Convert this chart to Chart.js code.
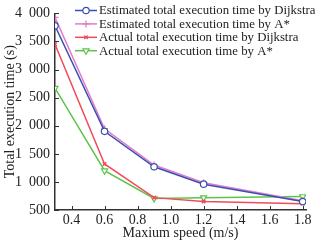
<!DOCTYPE html>
<html>
<head>
<meta charset="utf-8">
<script src="https://cdn.jsdelivr.net/npm/chart.js@4.4.0/dist/chart.umd.min.js"></script>
<style>
  html, body { margin: 0; padding: 0; background: #fff; }
  canvas { display: block; }
</style>
</head>
<body>
<canvas id="chart" width="325" height="245"></canvas>
<script>
// ====== DATA ======
const speeds = [0.3, 0.6, 0.9, 1.2, 1.8];
const estDijkstra = [3780, 1900, 1270, 960, 650];
const estAstar = [3930, 1945, 1300, 985, 665];
const actDijkstra = [3450, 1320, 720, 650, 610];
const actAstar = [2670, 1200, 705, 720, 740];
const yTicks = [500, 1000, 1500, 2000, 2500, 3000, 3500, 4000];
const xTicks = [0.4, 0.6, 0.8, 1.0, 1.2, 1.4, 1.6, 1.8];

const seriesNames = [
  "Estimated total execution time by Dijkstra",
  "Estimated total execution time by A*",
  "Actual total execution time by Dijkstra",
  "Actual total execution time by A*"
];

const FONT = "'Liberation Serif', 'DejaVu Serif', serif";

function toPoints(vals) {
  return speeds.map((s, i) => ({ x: s, y: vals[i] }));
}

// ====== INWARD TICKS + LEGEND ======
const extras = {
  id: "extras",
  afterDraw(chart) {
    const c = chart.ctx;
    const xs = chart.scales.x, ys = chart.scales.y;
    const area = chart.chartArea;
    c.save();
    c.strokeStyle = "#333";
    c.lineWidth = 1;
    xTicks.forEach(v => {
      const px = Math.round(xs.getPixelForValue(v)) + 0.5;
      c.beginPath();
      c.moveTo(px, area.bottom);
      c.lineTo(px, area.bottom - 4);
      c.stroke();
    });
    yTicks.forEach(v => {
      const py = Math.round(ys.getPixelForValue(v)) + 0.5;
      c.beginPath();
      c.moveTo(area.left, py);
      c.lineTo(area.left + 4, py);
      c.stroke();
    });

    // legend
    c.font = "12.8px " + FONT;
    c.textBaseline = "middle";
    chart.data.datasets.forEach((ds, i) => {
      const y = 10.5 + i * 13.4;
      const x0 = 75, x1 = 97;
      c.strokeStyle = ds.borderColor;
      c.lineWidth = 1.5;
      c.beginPath();
      c.moveTo(x0, y);
      c.lineTo(x1, y);
      c.stroke();
      c.fillStyle = "#222";
      c.fillText(ds.label, 99, y + 0.5);
      c.fillStyle = "#fff";
      c.lineWidth = 1.2;
      Chart.helpers.drawPoint(c, {
        pointStyle: ds.pointStyle,
        radius: ds.pointRadius,
        rotation: ds.pointRotation || 0,
        borderWidth: 1.2
      }, 86, y);
    });
    c.restore();
  }
};

// ====== CHART ======
const ctx = document.getElementById("chart").getContext("2d");

new Chart(ctx, {
  type: "line",
  data: {
    datasets: [
      {
        label: seriesNames[0],
        data: toPoints(estDijkstra),
        borderColor: "#3a4fb0",
        backgroundColor: "#fff",
        pointStyle: "circle",
        pointRadius: 3.2,
        pointBorderWidth: 1.2
      },
      {
        label: seriesNames[1],
        data: toPoints(estAstar),
        borderColor: "#e07ccc",
        backgroundColor: "#fff",
        pointStyle: "cross",
        pointRadius: 3.5,
        pointBorderWidth: 1.2
      },
      {
        label: seriesNames[2],
        data: toPoints(actDijkstra),
        borderColor: "#f24a5a",
        backgroundColor: "#fff",
        pointStyle: "crossRot",
        pointRadius: 2.5,
        pointBorderWidth: 1.5
      },
      {
        label: seriesNames[3],
        data: toPoints(actAstar),
        borderColor: "#5cc44a",
        backgroundColor: "#fff",
        pointStyle: "triangle",
        pointRotation: 180,
        pointRadius: 3.5,
        pointBorderWidth: 1.2
      }
    ]
  },
  options: {
    responsive: false,
    animation: false,
    devicePixelRatio: 1,
    layout: { padding: { top: 13, right: 19, left: 2, bottom: 3 } },
    elements: {
      line: { borderWidth: 1.5, tension: 0 }
    },
    plugins: {
      legend: { display: false },
      tooltip: { enabled: false }
    },
    scales: {
      x: {
        type: "linear",
        min: 0.3,
        max: 1.82,
        afterBuildTicks(scale) {
          scale.ticks = xTicks.map(v => ({ value: v }));
        },
        afterFit(scale) { scale.height = 32; },
        grid: { display: false, drawTicks: false },
        border: { color: "#333", width: 1.5 },
        ticks: {
          autoSkip: false,
          maxRotation: 0,
          padding: 2,
          color: "#222",
          font: { family: FONT, size: 14 },
          callback: v => v.toFixed(1)
        },
        title: {
          display: true,
          text: "Maxium speed (m/s)",
          color: "#222",
          font: { family: FONT, size: 14 },
          padding: { top: 0, bottom: 0 }
        }
      },
      y: {
        min: 500,
        max: 4000,
        afterBuildTicks(scale) {
          scale.ticks = yTicks.map(v => ({ value: v }));
        },
        afterFit(scale) { scale.width = 53; },
        grid: { display: false, drawTicks: false },
        border: { color: "#333", width: 1.5 },
        ticks: {
          autoSkip: false,
          padding: 5,
          color: "#222",
          font: { family: FONT, size: 14 },
          callback: v => v >= 1000 ? Math.floor(v / 1000) + "\u2002" + String(v % 1000).padStart(3, "0") : String(v)
        },
        title: {
          display: true,
          text: "Total execution time (s)",
          color: "#222",
          font: { family: FONT, size: 14 },
          padding: { top: 0, bottom: 0 }
        }
      }
    }
  },
  plugins: [extras]
});
</script>
</body>
</html>
